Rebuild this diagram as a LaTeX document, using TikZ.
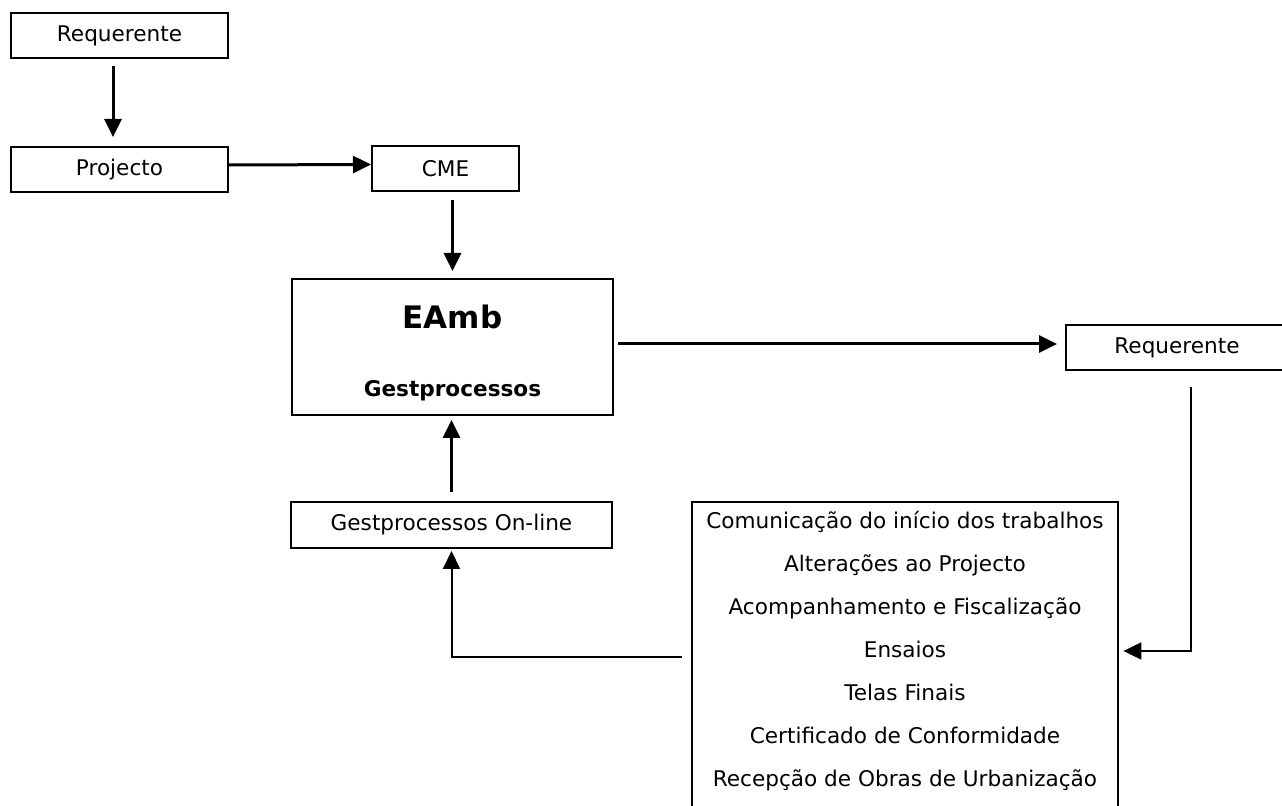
\documentclass[tikz,border=0pt]{standalone}
\usepackage{fontspec}
\setmainfont{DejaVu Sans}
\usetikzlibrary{arrows.meta,positioning,calc}

\begin{document}
\begin{tikzpicture}[
  x=0.5pt,y=-0.5pt,
  font=\fontsize{10.8}{12}\selectfont,
  s/.style={rectangle,draw,line width=1pt,minimum width=108.5pt,minimum height=22.5pt,inner sep=0pt},
  ar/.style={-{Triangle[length=9pt,width=8.5pt]},line width=1.5pt},
  ar2/.style={ar,line width=1pt}
]
\useasboundingbox (0,0) rectangle (1282,806);
\node[s] (req) at (119.5,35.5) {Requerente};
\node[s] (proj) at (119.5,169.5) {Projecto};
\node[s,minimum width=73.5pt] (cme) at (445.5,169) {CME};
\node[s,minimum width=160.5pt,minimum height=68pt,align=center,
  font=\bfseries\fontsize{10.8}{34}\selectfont] (eamb) at (452.5,347)
  {\rule{0pt}{18pt}{\fontsize{15.5}{34}\selectfont EAmb}\\Gestprocessos};
\node[s,minimum width=111pt] (req2) at (1177,347.5) {Requerente};
\node[s,minimum width=160.5pt,minimum height=23pt] (gonl) at (451.5,525) {Gestprocessos On-line};
\node[align=center,minimum width=213pt,inner sep=0pt,
  font=\fontsize{10.8}{21.5}\selectfont] (lst) at (905,651)
  {Comunicação do início dos trabalhos\\Alterações ao Projecto\\
   Acompanhamento e Fiscalização\\Ensaios\\Telas Finais\\
   Certificado de Conformidade\\Recepção de Obras de Urbanização};
\draw[line width=1pt] ([yshift=4.5pt]lst.north west) rectangle ([yshift=-12pt]lst.south east);
\draw[ar,shorten <=3.5pt,shorten >=4.5pt] ([xshift=-3.25pt]req.south) -- ([xshift=-3.25pt]proj.north);
\draw[ar] ([yshift=2.25pt]proj.east) -- ([yshift=2.25pt]cme.west);
\draw[ar,shorten <=4pt,shorten >=3.5pt] (cme.south -| eamb.north) -- (eamb.north);
\draw[ar,shorten <=2pt,shorten >=4pt] ([yshift=1.5pt]eamb.east) -- ([yshift=1.5pt]eamb.east -| req2.west);
\draw[ar2,shorten >=2.5pt] ([xshift=7pt,yshift=-8pt]req2.south) |- (lst.east);
\draw[ar,shorten <=4.5pt,shorten >=2pt] (gonl.north) -- (gonl.north |- eamb.south);
\draw[ar2,shorten >=1pt] ([shift={(-5pt,-3pt)}]lst.west) -| (gonl.south);
\end{tikzpicture}
\end{document}
